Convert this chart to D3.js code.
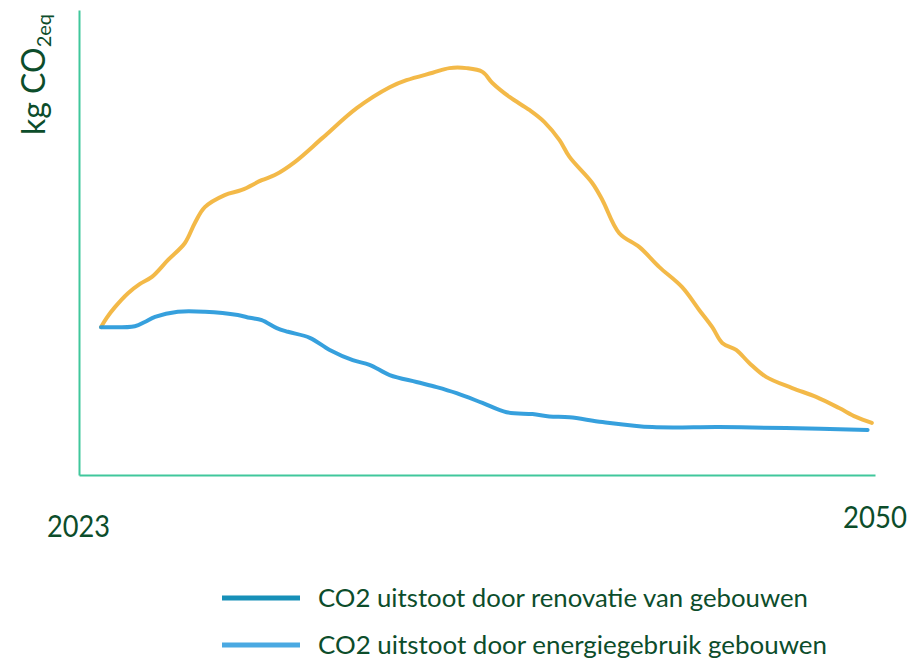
<!DOCTYPE html>
<html>
<head>
<meta charset="utf-8">
<script src="https://cdn.jsdelivr.net/npm/d3@7"></script>
<style>
  html, body { margin: 0; padding: 0; background: #fff; }
  svg { display: block; }
  text { font-family: Lato, "Open Sans", sans-serif; fill: #0c4d2b; }
</style>
</head>
<body>
<svg id="chart" width="920" height="664"></svg>
<script>
// ---- data (arbitrary units of kg CO2eq) ----
const yearLabels = ["2023", "2050"];
const yLabelMain = "kg CO";
const yLabelSub = "2eq";

// orange curve (no legend entry in the reference)
const orangeYears = [2023.00, 2023.20, 2023.49, 2023.95, 2024.37, 2024.79, 2025.35, 2025.95, 2026.30, 2026.65,
  2027.35, 2027.95, 2028.65, 2029.11, 2029.81, 2030.79, 2031.99, 2033.15, 2033.74, 2034.66,
  2035.25, 2035.85, 2036.41, 2036.76, 2037.36, 2038.06, 2038.59, 2039.12, 2039.47, 2040.27,
  2040.63, 2041.22, 2041.93, 2042.63, 2043.43, 2044.03, 2044.49, 2044.84, 2045.33, 2045.79,
  2046.38, 2047.30, 2048.14, 2048.95, 2049.54, 2050.10];
const orangeValues = [31.8, 33.8, 36.1, 39.1, 41.1, 42.6, 46.2, 49.9, 54.2, 57.6,
  60.2, 61.3, 63.4, 64.5, 67.3, 72.5, 78.9, 83.4, 84.9, 86.5,
  87.5, 87.5, 86.7, 84.3, 81.3, 78.5, 75.9, 72.0, 68.4, 62.8,
  59.1, 52.0, 49.0, 44.7, 40.4, 35.5, 31.8, 28.4, 26.9, 24.1,
  21.1, 18.7, 16.8, 14.4, 12.5, 11.2];

// blue curve
const blueYears = [2023.00, 2024.19, 2024.54, 2024.90, 2025.70, 2026.65, 2027.81, 2028.23, 2028.65, 2029.18,
  2029.57, 2030.34, 2031.04, 2031.85, 2032.44, 2033.15, 2034.09, 2034.80, 2035.50, 2036.41,
  2037.26, 2038.17, 2038.76, 2039.47, 2040.63, 2042.38, 2044.73, 2047.08, 2049.95];
const blueValues = [31.8, 32.0, 32.9, 34.0, 35.1, 35.1, 34.4, 33.8, 33.3, 31.6,
  30.8, 29.5, 26.9, 24.7, 23.7, 21.5, 20.0, 18.9, 17.6, 15.5,
  13.5, 13.1, 12.6, 12.4, 11.4, 10.3, 10.3, 10.1, 9.7];

const legendLabels = ["CO2 uitstoot door renovatie van gebouwen", "CO2 uitstoot door energiegebruik gebouwen"];
const legendColors = ["#1790b8", "#4aa9e2"];
const orangeColor = "#f2b53e";
const blueColor = "#2b9bdb";
const axisColor = "#40c79c";

// ---- layout ----
const svg = d3.select("#chart");
const frame = { left: 79, right: 875, top: 10, bottom: 475 };

const x = d3.scaleLinear().domain([2023, 2050]).range([101, 869]);
const y = d3.scaleLinear().domain([0, 100]).range([frame.bottom, frame.bottom - 465]);

// axes (no ticks, only the frame lines)
const xFrame = d3.scaleLinear().domain([0, 1]).range([frame.left, frame.right]);
const yFrame = d3.scaleLinear().domain([0, 1]).range([frame.bottom, frame.top]);
svg.append("g").attr("transform", `translate(0,${frame.bottom})`)
  .call(d3.axisBottom(xFrame).tickValues([]).tickSizeOuter(0))
  .call(g => g.select(".domain").attr("stroke", axisColor).attr("stroke-width", 2));
svg.append("g").attr("transform", `translate(${frame.left},0)`)
  .call(d3.axisLeft(yFrame).tickValues([]).tickSizeOuter(0))
  .call(g => g.select(".domain").attr("stroke", axisColor).attr("stroke-width", 2));

// size text by font size (height) then squeeze to target width
function fit(sel, targetWidth, fs) {
  sel.style("font-size", fs + "px");
  sel.attr("textLength", targetWidth).attr("lengthAdjust", "spacingAndGlyphs");
}

// lines
const line = d3.line().x(d => x(d[0])).y(d => y(d[1])).curve(d3.curveCatmullRom.alpha(0.5));
const orangeData = orangeYears.map((yr, i) => [yr, orangeValues[i]]);
const blueData = blueYears.map((yr, i) => [yr, blueValues[i]]);

svg.append("path").datum(orangeData).attr("d", line)
  .attr("fill", "none").attr("stroke", orangeColor).attr("stroke-width", 4)
  .attr("stroke-linejoin", "round").attr("stroke-linecap", "round").attr("opacity", 0.95);
svg.append("path").datum(blueData).attr("d", line)
  .attr("fill", "none").attr("stroke", blueColor).attr("stroke-width", 4)
  .attr("stroke-linejoin", "round").attr("stroke-linecap", "round").attr("opacity", 0.95);

// year labels
const t2023 = svg.append("text").attr("x", 47).attr("y", 537).text(yearLabels[0]);
fit(t2023, 63, 30);
const t2050 = svg.append("text").attr("x", 843).attr("y", 528).text(yearLabels[1]);
fit(t2050, 64, 30);

// y label (rotated)
const yl = svg.append("text").attr("transform", "translate(45,135) rotate(-90)").style("font-size", "32px");
yl.append("tspan").text(yLabelMain);
yl.append("tspan").attr("dy", 6).style("font-size", "20px").text(yLabelSub);

// legend
const legend = svg.append("g");
legendLabels.forEach((lab, i) => {
  const cy = [598, 645][i];
  legend.append("line").attr("x1", 222).attr("x2", 300).attr("y1", cy).attr("y2", cy)
    .attr("stroke", legendColors[i]).attr("stroke-width", 5);
  const t = legend.append("text").attr("x", 318).attr("y", cy + 9).text(lab);
  fit(t, [490, 509][i], 24.5);
});
</script>
</body>
</html>
